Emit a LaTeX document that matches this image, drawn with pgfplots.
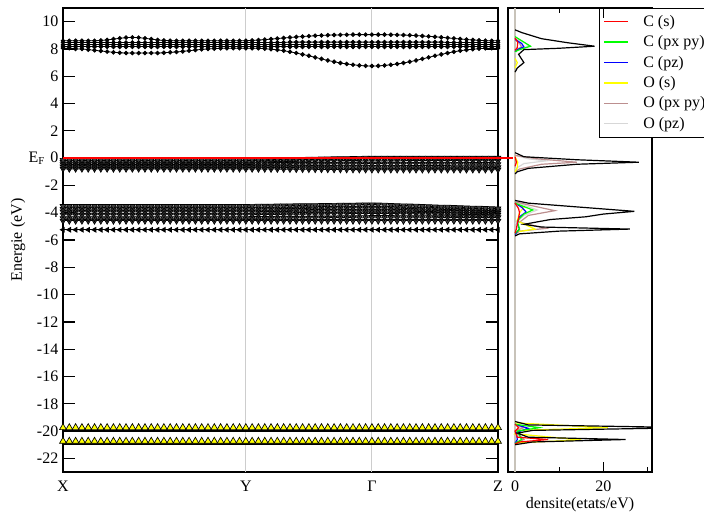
\documentclass[border=0pt]{standalone}
\usepackage{fontspec}
\setmainfont{Liberation Serif}
\usepackage{pgfplots}
\usepackage{pgfplotstable}
\pgfplotsset{compat=1.18}
\definecolor{rosy}{RGB}{188,143,143}
\definecolor{opz}{RGB}{215,215,215}
\definecolor{zline}{RGB}{200,195,185}
\definecolor{kline}{RGB}{205,205,205}
\definecolor{cgreen}{RGB}{0,255,0}
\definecolor{cblue}{RGB}{0,0,255}
\definecolor{oyel}{RGB}{255,255,0}

\pgfplotstableread{
x T1 T2 T3 T4 T5 V1 V2 V3 V4 V5 M1 M2 M3 M4 M5 M6 L Y1 Y2
0 8.60 8.47 8.30 8.15 8.05 -0.14 -0.29 -0.46 -0.63 -0.79 -3.52 -3.73 -3.93 -4.15 -4.41 -4.60 -5.25 -19.75 -20.75
1 8.60 8.47 8.30 8.15 8.05 -0.14 -0.29 -0.46 -0.63 -0.79 -3.52 -3.73 -3.93 -4.15 -4.41 -4.60 -5.25 -19.75 -20.75
2 8.60 8.47 8.30 8.15 8.00 -0.14 -0.29 -0.46 -0.63 -0.79 -3.52 -3.73 -3.93 -4.15 -4.41 -4.60 -5.25 -19.75 -20.75
3 8.60 8.47 8.30 8.15 8.00 -0.14 -0.29 -0.46 -0.63 -0.79 -3.52 -3.73 -3.93 -4.15 -4.41 -4.60 -5.25 -19.75 -20.75
4 8.60 8.47 8.30 8.15 7.95 -0.14 -0.29 -0.46 -0.63 -0.79 -3.52 -3.73 -3.93 -4.15 -4.41 -4.60 -5.25 -19.75 -20.75
5 8.60 8.47 8.30 8.15 7.90 -0.14 -0.29 -0.46 -0.63 -0.79 -3.52 -3.73 -3.93 -4.15 -4.41 -4.60 -5.25 -19.75 -20.75
6 8.62 8.47 8.30 8.15 7.85 -0.14 -0.29 -0.46 -0.63 -0.79 -3.52 -3.73 -3.93 -4.15 -4.41 -4.60 -5.25 -19.75 -20.75
7 8.66 8.47 8.30 8.15 7.80 -0.14 -0.29 -0.46 -0.63 -0.79 -3.52 -3.73 -3.93 -4.15 -4.41 -4.60 -5.25 -19.75 -20.75
8 8.72 8.47 8.30 8.15 7.75 -0.14 -0.29 -0.46 -0.63 -0.79 -3.52 -3.73 -3.93 -4.15 -4.41 -4.60 -5.25 -19.75 -20.75
9 8.78 8.47 8.30 8.15 7.72 -0.14 -0.29 -0.46 -0.63 -0.79 -3.52 -3.73 -3.93 -4.15 -4.41 -4.60 -5.25 -19.75 -20.75
10 8.83 8.47 8.30 8.15 7.70 -0.14 -0.29 -0.46 -0.63 -0.79 -3.52 -3.73 -3.93 -4.15 -4.41 -4.60 -5.25 -19.75 -20.75
11 8.85 8.47 8.30 8.15 7.70 -0.14 -0.29 -0.46 -0.63 -0.79 -3.52 -3.73 -3.93 -4.15 -4.41 -4.60 -5.25 -19.75 -20.75
12 8.83 8.47 8.30 8.15 7.70 -0.14 -0.29 -0.46 -0.63 -0.79 -3.52 -3.73 -3.93 -4.15 -4.41 -4.60 -5.25 -19.75 -20.75
13 8.78 8.47 8.30 8.15 7.70 -0.14 -0.29 -0.46 -0.63 -0.79 -3.52 -3.73 -3.93 -4.15 -4.41 -4.60 -5.25 -19.75 -20.75
14 8.72 8.47 8.30 8.15 7.70 -0.14 -0.29 -0.46 -0.63 -0.79 -3.52 -3.73 -3.93 -4.15 -4.41 -4.60 -5.25 -19.75 -20.75
15 8.66 8.47 8.30 8.15 7.70 -0.14 -0.29 -0.46 -0.63 -0.79 -3.52 -3.73 -3.93 -4.15 -4.41 -4.60 -5.25 -19.75 -20.75
16 8.62 8.47 8.30 8.15 7.72 -0.14 -0.29 -0.46 -0.63 -0.79 -3.52 -3.73 -3.93 -4.15 -4.41 -4.60 -5.25 -19.75 -20.75
17 8.60 8.47 8.30 8.15 7.75 -0.14 -0.29 -0.46 -0.63 -0.79 -3.52 -3.73 -3.93 -4.15 -4.41 -4.60 -5.25 -19.75 -20.75
18 8.60 8.47 8.30 8.15 7.78 -0.14 -0.29 -0.46 -0.63 -0.79 -3.52 -3.73 -3.93 -4.15 -4.41 -4.60 -5.25 -19.75 -20.75
19 8.60 8.47 8.30 8.15 7.82 -0.14 -0.29 -0.46 -0.63 -0.79 -3.52 -3.73 -3.93 -4.15 -4.41 -4.60 -5.25 -19.75 -20.75
20 8.60 8.47 8.30 8.15 7.87 -0.14 -0.29 -0.46 -0.63 -0.79 -3.52 -3.73 -3.93 -4.15 -4.41 -4.60 -5.25 -19.75 -20.75
21 8.60 8.47 8.30 8.15 7.92 -0.14 -0.29 -0.46 -0.63 -0.79 -3.52 -3.73 -3.93 -4.15 -4.41 -4.60 -5.25 -19.75 -20.75
22 8.60 8.47 8.30 8.15 7.97 -0.14 -0.29 -0.46 -0.63 -0.79 -3.52 -3.73 -3.93 -4.15 -4.41 -4.60 -5.25 -19.75 -20.75
23 8.60 8.47 8.30 8.15 8.00 -0.14 -0.29 -0.46 -0.63 -0.79 -3.52 -3.73 -3.93 -4.15 -4.41 -4.60 -5.25 -19.75 -20.75
24 8.60 8.47 8.30 8.15 8.02 -0.14 -0.29 -0.46 -0.63 -0.79 -3.52 -3.73 -3.93 -4.15 -4.41 -4.60 -5.25 -19.75 -20.75
25 8.60 8.47 8.30 8.15 8.04 -0.14 -0.29 -0.46 -0.63 -0.79 -3.52 -3.73 -3.93 -4.15 -4.41 -4.60 -5.25 -19.75 -20.75
26 8.60 8.47 8.30 8.15 8.05 -0.14 -0.29 -0.46 -0.63 -0.79 -3.52 -3.73 -3.93 -4.15 -4.41 -4.60 -5.25 -19.75 -20.75
27 8.60 8.47 8.30 8.15 8.05 -0.14 -0.29 -0.46 -0.63 -0.79 -3.52 -3.73 -3.93 -4.15 -4.41 -4.60 -5.25 -19.75 -20.75
28 8.60 8.47 8.30 8.15 8.05 -0.14 -0.29 -0.46 -0.63 -0.79 -3.52 -3.73 -3.93 -4.15 -4.41 -4.60 -5.25 -19.75 -20.75
29 8.60 8.47 8.30 8.15 8.05 -0.140 -0.290 -0.460 -0.630 -0.790 -3.520 -3.730 -3.930 -4.150 -4.410 -4.60 -5.25 -19.75 -20.75
30 8.62 8.47 8.30 8.15 8.05 -0.132 -0.283 -0.457 -0.631 -0.793 -3.514 -3.725 -3.926 -4.145 -4.406 -4.60 -5.25 -19.75 -20.75
31 8.65 8.47 8.30 8.15 8.05 -0.124 -0.276 -0.454 -0.632 -0.796 -3.508 -3.720 -3.922 -4.140 -4.402 -4.60 -5.25 -19.75 -20.75
32 8.68 8.47 8.30 8.15 8.02 -0.116 -0.269 -0.451 -0.633 -0.799 -3.502 -3.715 -3.918 -4.135 -4.398 -4.60 -5.25 -19.75 -20.75
33 8.72 8.47 8.30 8.15 7.98 -0.108 -0.262 -0.448 -0.634 -0.802 -3.496 -3.710 -3.914 -4.130 -4.394 -4.60 -5.25 -19.75 -20.75
34 8.76 8.47 8.30 8.15 7.93 -0.100 -0.255 -0.445 -0.635 -0.805 -3.490 -3.705 -3.910 -4.125 -4.390 -4.60 -5.25 -19.75 -20.75
35 8.80 8.47 8.30 8.15 7.87 -0.092 -0.248 -0.442 -0.636 -0.808 -3.484 -3.700 -3.906 -4.120 -4.386 -4.60 -5.25 -19.75 -20.75
36 8.84 8.50 8.30 8.15 7.79 -0.084 -0.241 -0.439 -0.637 -0.811 -3.478 -3.695 -3.902 -4.115 -4.382 -4.60 -5.25 -19.75 -20.75
37 8.88 8.50 8.30 8.15 7.70 -0.076 -0.234 -0.436 -0.638 -0.814 -3.472 -3.690 -3.898 -4.110 -4.378 -4.60 -5.25 -19.75 -20.75
38 8.91 8.50 8.30 8.15 7.60 -0.068 -0.227 -0.433 -0.639 -0.817 -3.466 -3.685 -3.894 -4.105 -4.374 -4.60 -5.25 -19.75 -20.75
39 8.94 8.50 8.30 8.15 7.50 -0.060 -0.220 -0.430 -0.640 -0.820 -3.460 -3.680 -3.890 -4.100 -4.370 -4.60 -5.25 -19.75 -20.75
40 8.97 8.50 8.30 8.15 7.38 -0.052 -0.213 -0.427 -0.641 -0.823 -3.454 -3.675 -3.886 -4.095 -4.366 -4.60 -5.25 -19.75 -20.75
41 8.99 8.50 8.30 8.15 7.27 -0.044 -0.206 -0.424 -0.642 -0.826 -3.448 -3.670 -3.882 -4.090 -4.362 -4.60 -5.25 -19.75 -20.75
42 9.01 8.50 8.30 8.15 7.16 -0.036 -0.199 -0.421 -0.643 -0.829 -3.442 -3.665 -3.878 -4.085 -4.358 -4.60 -5.25 -19.75 -20.75
43 9.02 8.50 8.30 8.15 7.06 -0.028 -0.192 -0.418 -0.644 -0.832 -3.436 -3.660 -3.874 -4.080 -4.354 -4.60 -5.25 -19.75 -20.75
44 9.03 8.50 8.30 8.15 6.97 -0.020 -0.185 -0.415 -0.645 -0.835 -3.430 -3.655 -3.870 -4.075 -4.350 -4.60 -5.25 -19.75 -20.75
45 9.04 8.50 8.30 8.15 6.90 -0.012 -0.178 -0.412 -0.646 -0.838 -3.424 -3.650 -3.866 -4.070 -4.346 -4.60 -5.25 -19.75 -20.75
46 9.05 8.50 8.30 8.15 6.84 -0.004 -0.171 -0.409 -0.647 -0.841 -3.418 -3.645 -3.862 -4.065 -4.342 -4.60 -5.25 -19.75 -20.75
47 9.05 8.50 8.30 8.15 6.79 0.004 -0.164 -0.406 -0.648 -0.844 -3.412 -3.640 -3.858 -4.060 -4.338 -4.60 -5.25 -19.75 -20.75
48 9.05 8.50 8.30 8.15 6.76 0.012 -0.157 -0.403 -0.649 -0.847 -3.406 -3.635 -3.854 -4.055 -4.334 -4.60 -5.25 -19.75 -20.75
49 9.05 8.50 8.30 8.15 6.75 0.020 -0.150 -0.400 -0.650 -0.850 -3.400 -3.630 -3.850 -4.050 -4.330 -4.60 -5.25 -19.75 -20.75
50 9.05 8.50 8.30 8.15 6.76 0.020 -0.153 -0.403 -0.652 -0.850 -3.415 -3.641 -3.858 -4.055 -4.331 -4.60 -5.25 -19.75 -20.75
51 9.05 8.50 8.30 8.15 6.79 0.020 -0.155 -0.405 -0.653 -0.850 -3.430 -3.652 -3.865 -4.060 -4.332 -4.60 -5.25 -19.75 -20.75
52 9.04 8.50 8.30 8.15 6.84 0.020 -0.158 -0.408 -0.655 -0.850 -3.445 -3.663 -3.873 -4.065 -4.333 -4.60 -5.25 -19.75 -20.75
53 9.03 8.50 8.30 8.15 6.90 0.020 -0.160 -0.410 -0.656 -0.850 -3.460 -3.674 -3.880 -4.070 -4.334 -4.60 -5.25 -19.75 -20.75
54 9.02 8.50 8.30 8.15 6.97 0.020 -0.163 -0.413 -0.658 -0.850 -3.475 -3.685 -3.888 -4.075 -4.335 -4.60 -5.25 -19.75 -20.75
55 9.00 8.50 8.30 8.15 7.06 0.020 -0.165 -0.415 -0.659 -0.850 -3.490 -3.696 -3.895 -4.080 -4.336 -4.60 -5.25 -19.75 -20.75
56 8.98 8.50 8.30 8.15 7.16 0.020 -0.168 -0.418 -0.661 -0.850 -3.505 -3.707 -3.903 -4.085 -4.337 -4.60 -5.25 -19.75 -20.75
57 8.95 8.50 8.30 8.15 7.27 0.020 -0.170 -0.420 -0.662 -0.850 -3.520 -3.718 -3.910 -4.090 -4.338 -4.60 -5.25 -19.75 -20.75
58 8.92 8.50 8.30 8.15 7.38 0.020 -0.173 -0.423 -0.664 -0.850 -3.535 -3.729 -3.918 -4.095 -4.339 -4.60 -5.25 -19.75 -20.75
59 8.89 8.50 8.30 8.15 7.50 0.020 -0.175 -0.425 -0.665 -0.850 -3.550 -3.740 -3.925 -4.100 -4.340 -4.60 -5.25 -19.75 -20.75
60 8.85 8.50 8.30 8.15 7.60 0.020 -0.178 -0.428 -0.667 -0.850 -3.565 -3.751 -3.933 -4.105 -4.341 -4.60 -5.25 -19.75 -20.75
61 8.81 8.47 8.30 8.15 7.70 0.020 -0.180 -0.430 -0.668 -0.850 -3.580 -3.762 -3.940 -4.110 -4.342 -4.60 -5.25 -19.75 -20.75
62 8.77 8.47 8.30 8.15 7.79 0.020 -0.183 -0.433 -0.670 -0.850 -3.595 -3.773 -3.948 -4.115 -4.343 -4.60 -5.25 -19.75 -20.75
63 8.73 8.47 8.30 8.15 7.87 0.020 -0.185 -0.435 -0.671 -0.850 -3.610 -3.784 -3.955 -4.120 -4.344 -4.60 -5.25 -19.75 -20.75
64 8.69 8.47 8.30 8.15 7.93 0.020 -0.188 -0.438 -0.673 -0.850 -3.625 -3.795 -3.963 -4.125 -4.345 -4.60 -5.25 -19.75 -20.75
65 8.66 8.47 8.30 8.15 7.98 0.020 -0.190 -0.440 -0.674 -0.850 -3.640 -3.806 -3.970 -4.130 -4.346 -4.60 -5.25 -19.75 -20.75
66 8.63 8.47 8.30 8.15 8.02 0.020 -0.193 -0.443 -0.676 -0.850 -3.655 -3.817 -3.978 -4.135 -4.347 -4.60 -5.25 -19.75 -20.75
67 8.61 8.47 8.30 8.15 8.05 0.020 -0.195 -0.445 -0.677 -0.850 -3.670 -3.828 -3.985 -4.140 -4.348 -4.60 -5.25 -19.75 -20.75
68 8.60 8.47 8.30 8.15 8.05 0.020 -0.198 -0.448 -0.679 -0.850 -3.685 -3.839 -3.993 -4.145 -4.349 -4.60 -5.25 -19.75 -20.75
69 8.60 8.47 8.30 8.15 8.05 0.020 -0.200 -0.450 -0.680 -0.850 -3.700 -3.850 -4.000 -4.150 -4.350 -4.60 -5.25 -19.75 -20.75
}\bands

\pgfplotsset{
  cband/.style={black, line width=0.6pt, mark=*, mark size=1.4pt, mark options={fill=black, draw=black}, forget plot},
  vband/.style={black, line width=0.6pt, mark=triangle*, mark size=2.5pt, mark options={rotate=180, fill=black!75, draw=black, line width=0.5pt}, forget plot},
  lband/.style={black, line width=0.8pt, mark=triangle*, mark size=1.8pt, mark options={rotate=90, fill=black, draw=black}, forget plot},
  yband/.style={draw=none, mark=triangle*, mark size=3pt, mark options={fill=oyel, draw=black, line width=0.5pt}, forget plot},
}

\begin{document}
\begin{tikzpicture}[font=\fontsize{12}{14}\selectfont]
\begin{axis}[
  set layers,
  at={(47.25pt,-354pt)}, anchor=south west,
  scale only axis, width=326.25pt, height=348pt,
  xmin=0, xmax=69, ymin=-23, ymax=11, clip=false,
  axis line style={line width=1.5pt},
  tick align=inside, tick pos=both,
  ytick={-22,-20,...,10},
  yticklabels={-22,-20,-18,-16,-14,-12,-10,-8,-6,-4,-2,{E\textsubscript{F}\hspace{4pt}0},2,4,6,8,10},
  major tick length=9pt,
  xtick=\empty,
  minor xtick={2,4,...,68}, minor tick length=3.75pt,
  extra x ticks={0,29,49,69},
  extra x tick labels={X,Y,Γ,Z},
  extra x tick style={major tick length=0pt, xticklabel style={yshift=-3pt}},
  every tick/.append style={black, line width=1pt},
  ylabel={Energie (eV)},
  ylabel style={at={(axis description cs:-0.1034,0.5)}, anchor=center},
]
\addplot[kline, line width=0.8pt, forget plot] coordinates {(29,-23) (29,11)};
\addplot[kline, line width=0.8pt, forget plot] coordinates {(49,-23) (49,11)};
% conduction bands
\addplot[cband] table[x=x,y=T1]{\bands};
\addplot[cband] table[x=x,y=T2]{\bands};
\addplot[cband] table[x=x,y=T3]{\bands};
\addplot[cband] table[x=x,y=T4]{\bands};
\addplot[cband] table[x=x,y=T5]{\bands};
% bands near E_F
\addplot[vband] table[x=x,y=V5]{\bands};
\addplot[vband] table[x=x,y=V4]{\bands};
\addplot[vband] table[x=x,y=V3]{\bands};
\addplot[vband] table[x=x,y=V2]{\bands};
\addplot[vband] table[x=x,y=V1]{\bands};
% middle bands
\addplot[vband] table[x=x,y=M6]{\bands};
\addplot[vband] table[x=x,y=M5]{\bands};
\addplot[vband] table[x=x,y=M4]{\bands};
\addplot[vband] table[x=x,y=M3]{\bands};
\addplot[vband] table[x=x,y=M2]{\bands};
\addplot[vband] table[x=x,y=M1]{\bands};
\addplot[lband] table[x=x,y=L]{\bands};
% O 2s bands
\addplot[black, line width=1.6pt, forget plot] coordinates {(0,-19.97) (69,-19.97)};
\addplot[black, line width=1.6pt, forget plot] coordinates {(0,-20.97) (69,-20.97)};
\addplot[yband] table[x=x,y=Y1]{\bands};
\addplot[yband] table[x=x,y=Y2]{\bands};
% Fermi level
\addplot[red, line width=1.2pt, forget plot, on layer=axis foreground] coordinates {(0,0) (71.3,0)};
\end{axis}

\begin{axis}[
  at={(381pt,-354pt)}, anchor=south west,
  scale only axis, width=108pt, height=348pt,
  xmin=-1.6, xmax=31, ymin=-23, ymax=11,
  axis line style={line width=1.5pt},
  tick align=inside, tick pos=both,
  ytick=\empty,
  xtick={0},
  xticklabels={0},
  xticklabel style={yshift=-3pt},
  major tick length=6pt,
  every tick/.append style={black, line width=1pt},
  xlabel={densite(etats/eV)},
  xlabel style={yshift=2.5pt},
  legend style={at={(0.632,1)}, anchor=north west, draw=black, line width=0.6pt, fill=white,
    font=\fontsize{12}{14}\selectfont, row sep=1.5pt, inner xsep=3pt, inner ysep=3pt, cells={anchor=west},
    /tikz/every odd column/.append style={column sep=9pt}},
  legend image code/.code={\draw[#1, line width=0.9pt] (0pt,0pt) -- (18pt,0pt);},
]
\addplot[zline, line width=1pt, forget plot] coordinates {(0,-23) (0,11)};
% O(pz)
\addplot[opz, line width=0.9pt, forget plot] coordinates {(0,8.8) (2.5,8.4) (3,8.2) (0.5,7.9) (0,7.7)};
\addplot[opz, line width=0.9pt, forget plot] coordinates {(0,0.2) (3,-0.05) (7,-0.2) (2,-0.4) (0,-0.8)};
\addplot[opz, line width=0.9pt, forget plot] coordinates {(0,-3.2) (5,-3.8) (2,-4.2) (0,-4.8)};
\addplot[opz, line width=0.9pt, forget plot] coordinates {(0,-19.5) (1.5,-19.75) (0,-20.0) (1.5,-20.62) (0,-20.9)};
% O(px py)
\addplot[rosy, line width=0.9pt, forget plot] coordinates {(0,8.7) (1,8.4) (1.5,8.15) (0,7.9)};
\addplot[rosy, line width=0.9pt, forget plot] coordinates {(0,0.2) (5,-0.05) (14,-0.3) (6,-0.45) (1,-0.8) (0,-1.0)};
\addplot[rosy, line width=0.9pt, forget plot] coordinates {(0,-3.2) (4,-3.5) (9,-3.85) (3,-4.2) (1,-4.7) (7,-5.15) (1,-5.35) (0,-5.6)};
\addplot[rosy, line width=0.9pt, forget plot] coordinates {(0,-19.5) (2,-19.75) (0,-20.0) (2,-20.62) (0,-20.9)};
% O(s)
\addplot[oyel, line width=0.9pt, forget plot] coordinates {(0,7.3) (0.5,7.0) (0,6.6)};
\addplot[oyel, line width=0.9pt, forget plot] coordinates {(0,0.1) (0.6,-0.3) (0.5,-0.7) (0,-1.0)};
\addplot[oyel, line width=0.9pt, forget plot] coordinates {(0,-3.3) (2,-3.6) (1,-4.0) (0.5,-4.6) (4.5,-5.2) (0.5,-5.4) (0,-5.6)};
\addplot[oyel, line width=0.9pt, forget plot] coordinates {(0,-19.4) (21,-19.75) (1,-19.95) (0,-20.2) (15,-20.65) (1,-20.85) (0,-21.0)};
% C(pz)
\addplot[cblue, line width=0.9pt, forget plot] coordinates {(0,8.7) (1.5,8.4) (2,8.15) (0.5,7.95) (0,7.8)};
\addplot[cblue, line width=0.9pt, forget plot] coordinates {(0,-3.3) (1.5,-3.6) (2.5,-3.95) (1,-4.3) (0.5,-4.8) (1,-5.2) (0,-5.6)};
\addplot[cblue, line width=0.9pt, forget plot] coordinates {(0,-19.5) (3,-19.8) (0.3,-20.1) (0.5,-20.62) (0,-20.9)};
% C(px py)
\addplot[cgreen, line width=0.9pt, forget plot] coordinates {(0,8.9) (1.5,8.6) (3.5,8.2) (1,7.95) (0,7.8)};
\addplot[cgreen, line width=0.9pt, forget plot] coordinates {(0,-3.3) (2,-3.55) (4,-3.8) (2,-4.1) (0.5,-4.6) (1,-5.2) (0,-5.5)};
\addplot[cgreen, line width=0.9pt, forget plot] coordinates {(0,-19.5) (5.5,-19.75) (0.5,-20.0) (1.5,-20.62) (0,-20.9)};
% C(s)
\addplot[red, line width=0.9pt, forget plot] coordinates {(0,8.8) (0.6,8.5) (0.5,8.1) (0,7.9)};
\addplot[red, line width=0.9pt, forget plot] coordinates {(0,0.1) (0.3,-0.3) (0,-0.6)};
\addplot[red, line width=0.9pt, forget plot] coordinates {(0,-3.3) (0.8,-3.7) (1,-4.0) (0.8,-4.4) (0.5,-4.8) (0.3,-5.2) (0,-5.5)};
\addplot[red, line width=0.9pt, forget plot] coordinates {(0,-19.5) (0.8,-19.75) (0,-20.0) (0.5,-20.45) (7.5,-20.62) (1,-20.8) (0,-20.95)};
% total DOS
\addplot[black, line width=0.9pt, forget plot] coordinates {(0,9.4) (1.5,9.2) (6,8.75) (12,8.45) (18,8.2) (10,8.05) (2,7.95) (0.8,7.6) (2,7.0) (0.5,6.6) (0,6.3)};
\addplot[black, line width=0.9pt, forget plot] coordinates {(0,0.4) (2,0.1) (14,-0.12) (28,-0.3) (14,-0.45) (3,-0.75) (0.5,-1.0) (0,-1.15)};
\addplot[black, line width=0.9pt, forget plot] coordinates {(0,-3.1) (3,-3.3) (15,-3.6) (27,-3.9) (20,-4.1) (16,-4.3) (8,-4.5) (2,-4.85) (6,-5.05) (26,-5.2) (10,-5.35) (1,-5.55) (0,-5.7)};
\addplot[black, line width=0.9pt, forget plot] coordinates {(0,-19.3) (3,-19.55) (40,-19.75) (4,-19.95) (0.5,-20.15) (3,-20.45) (25,-20.62) (4,-20.8) (0,-21.0)};
\addlegendimage{red}\addlegendentry{C (s)}
\addlegendimage{cgreen}\addlegendentry{C (px py)}
\addlegendimage{cblue}\addlegendentry{C (pz)}
\addlegendimage{oyel}\addlegendentry{O (s)}
\addlegendimage{rosy}\addlegendentry{O (px py)}
\addlegendimage{opz}\addlegendentry{O (pz)}
\end{axis}
% DOS axis: ticks at 10, 20, 30 and the label 20 (x = 20 lies at 452.56pt)
\draw[black, line width=1pt] (452.56pt,-354pt) -- (452.56pt,-346.5pt);
\draw[black, line width=1pt] (452.56pt,-6pt) -- (452.56pt,-13.5pt);
\draw[black, line width=1pt] (419.43pt,-354pt) -- (419.43pt,-350.25pt);
\draw[black, line width=1pt] (419.43pt,-6pt) -- (419.43pt,-9.75pt);
\draw[black, line width=1pt] (485.69pt,-354pt) -- (485.69pt,-350.25pt);
\node[anchor=north, inner sep=0.333em, yshift=-3pt] at (452.56pt,-354pt) {20};
\pgfresetboundingbox
\path (0pt,0pt) rectangle (528pt,-384.75pt);
\end{tikzpicture}
\end{document}
